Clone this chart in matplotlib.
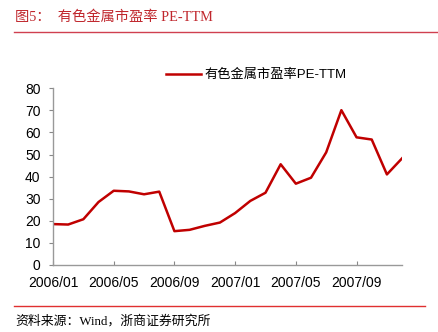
import matplotlib
matplotlib.use('Agg')
import matplotlib.pyplot as plt
from matplotlib.lines import Line2D

# monthly PE-TTM, 2006/01 - 2007/12
months = ['2006/01', '2006/02', '2006/03', '2006/04', '2006/05', '2006/06',
          '2006/07', '2006/08', '2006/09', '2006/10', '2006/11', '2006/12',
          '2007/01', '2007/02', '2007/03', '2007/04', '2007/05', '2007/06',
          '2007/07', '2007/08', '2007/09', '2007/10', '2007/11', '2007/12']
pe_ttm = [18.5, 18.3, 20.7, 28.5, 33.6, 33.3, 32.0, 33.2, 15.3, 15.9, 17.7, 19.2,
          23.5, 29.0, 32.7, 45.6, 36.8, 39.5, 51.0, 70.1, 57.8, 56.8, 41.0, 48.3]
tick_labels = ['2006/01', '2006/05', '2006/09', '2007/01', '2007/05', '2007/09']

plt.rcParams['font.family'] = ['Liberation Sans', 'Noto Sans CJK SC']

fig = plt.figure(figsize=(4.38, 3.32), dpi=100)
ax = fig.add_axes([0.121, 0.202, 0.797, 0.532])

x = list(range(len(months)))
ax.plot(x, pe_ttm, color='#C00000', linewidth=1.8, label='有色金属市盈率PE-TTM')
ax.set_xlim(0, len(months) - 1)
ax.set_ylim(0, 80)
ax.set_yticks(range(0, 81, 10))
ticks = [months.index(t) for t in tick_labels]
ax.set_xticks(ticks)
ax.set_xticklabels(tick_labels)
ax.tick_params(axis='x', direction='in', length=3, color='#888888', labelsize=10, pad=8)
ax.tick_params(axis='y', direction='out', length=3, color='#888888', labelsize=10, pad=6)
for s in ['top', 'right']:
    ax.spines[s].set_visible(False)
for s in ['left', 'bottom']:
    ax.spines[s].set_color('#999999')
    ax.spines[s].set_linewidth(1)

ax.legend(loc='lower left', bbox_to_anchor=(0.31, 1.01), frameon=False, fontsize=9.5,
          handlelength=2.6, handletextpad=0.3, borderaxespad=0)

# header and footer
fig.text(15 / 438, 1 - 17 / 332, '图5：  有色金属市盈率 PE-TTM', color='#C0272D', fontsize=10.3,
         family=['Liberation Serif', 'Noto Sans CJK SC'], va='center', ha='left')
fig.add_artist(Line2D([14 / 438, 1.0], [1 - 32 / 332, 1 - 32 / 332], color='#D04050', linewidth=1))
fig.add_artist(Line2D([14 / 438, 425 / 438], [1 - 306 / 332, 1 - 306 / 332], color='#E03030', linewidth=1))
fig.text(15 / 438, 1 - 321 / 332, '资料来源：Wind，浙商证券研究所', color='black', fontsize=9.3,
         family=['Liberation Serif', 'Noto Sans CJK SC'], va='center', ha='left')

plt.savefig('out.png', dpi=100)
